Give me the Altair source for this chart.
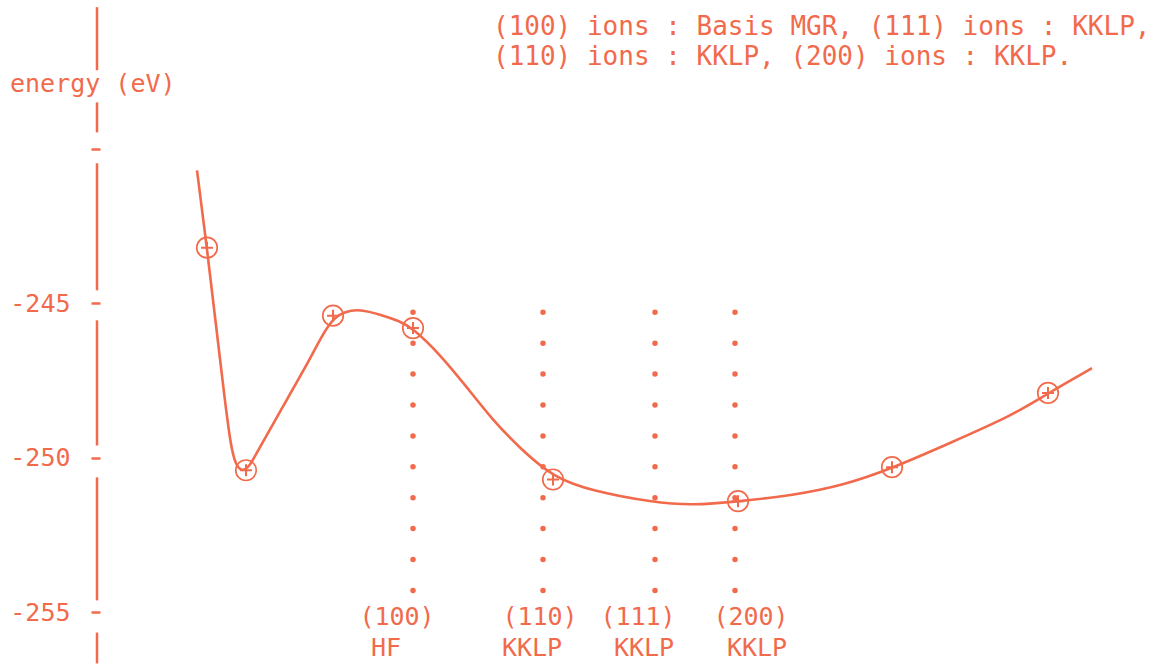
import altair as alt
import pandas as pd

INK = "#f26a4c"
FONT = "DejaVu Sans Mono"

# Smooth energy curve (separation in arbitrary units, energy in eV)
curve_x = [10.0, 11.0, 11.9, 12.7, 13.4, 13.9, 14.5, 15.2, 16.1, 18.3, 20.8, 22.5,
           23.6, 24.8, 26.3, 28.3, 30.3, 31.6, 34.3, 37.0, 39.6, 42.3, 45.6, 49.6,
           55.6, 59.6, 64.1, 69.6, 74.6, 79.5, 85.0, 91.6, 95.1, 99.5]
curve_e = [-240.70, -243.22, -245.71, -247.91, -249.69, -250.24, -250.44, -250.31,
           -249.76, -248.50, -247.10, -246.04, -245.49, -245.26, -245.19, -245.36,
           -245.58, -245.81, -246.65, -247.72, -248.79, -249.69, -250.63, -251.08,
           -251.44, -251.54, -251.41, -251.21, -250.89, -250.34, -249.56, -248.62,
           -247.91, -247.10]

# Computed points
point_x = [11.0, 14.9, 23.6, 31.6, 45.6, 64.1, 79.5, 95.1]
point_e = [-243.2, -250.4, -245.4, -245.8, -250.7, -251.4, -250.3, -247.9]

# Reference configurations marked by dotted verticals
ref_x = [31.6, 44.6, 55.8, 63.8]
ref_top = -245.29
ref_bottom = -254.4

# Labels under the verticals
label_top_x = [30.0, 44.3, 54.1, 65.4]
label_top = ["(100)", "(110)", "(111)", "(200)"]
label_bot_x = [28.9, 43.5, 54.7, 66.0]
label_bot = ["HF", "KKLP", "KKLP", "KKLP"]

note_lines = ["(100) ions : Basis MGR, (111) ions : KKLP,",
              "(110) ions : KKLP, (200) ions : KKLP."]

y_ticks = [-255, -250, -245, -240]
# Energy axis drawn as broken segments around the tick dashes
axis_seg_top = [-235.42, -238.50, -240.47, -245.55, -250.63, -255.65]
axis_seg_bot = [-237.46, -239.47, -244.58, -249.60, -254.61, -256.65]

x_scale = alt.Scale(domain=[0, 100], nice=False, zero=False)
y_scale = alt.Scale(domain=[-256.7, -235.35], nice=False, zero=False)

y_axis = alt.Axis(
    title=None,
    values=y_ticks,
    grid=False,
    domain=False,
    ticks=True,
    tickSize=9,
    tickWidth=2.5,
    tickColor=INK,
    offset=-3,
    labelPadding=21,
    labelFont=FONT,
    labelFontSize=25,
    labelColor=INK,
    labelExpr="datum.value == -240 ? '' : toString(datum.value)",
)

curve_df = pd.DataFrame({"x": curve_x, "e": curve_e})
pts_df = pd.DataFrame({"x": point_x, "e": point_e})
ref_df = pd.DataFrame({"x": ref_x, "top": [ref_top] * 4, "bot": [ref_bottom] * 4})
lab1_df = pd.DataFrame({"x": label_top_x, "t": label_top})
lab2_df = pd.DataFrame({"x": label_bot_x, "t": label_bot})
seg_df = pd.DataFrame({"a": axis_seg_top, "b": axis_seg_bot})

X = alt.X("x:Q", scale=x_scale, axis=None)


def Y(field):
    return alt.Y(field, type="quantitative", scale=y_scale, axis=y_axis)


axis_line = alt.Chart(seg_df).mark_rule(color=INK, strokeWidth=2.5).encode(
    x=alt.value(0), y=Y("a"), y2="b"
)

refs = alt.Chart(ref_df).mark_rule(
    color=INK, strokeWidth=5.5, strokeDash=[0, 30.9], strokeCap="round"
).encode(x=X, y=Y("top"), y2="bot")

curve = alt.Chart(curve_df).mark_line(
    color=INK, strokeWidth=2.6, interpolate="basis"
).encode(x=X, y=Y("e"))

circles = alt.Chart(pts_df).mark_point(
    shape="circle", size=420, filled=False, color=INK, strokeWidth=1.7, opacity=1
).encode(x=X, y=Y("e"))

plus = alt.Chart(pts_df).mark_point(
    shape="M-1,0L1,0M0,-1L0,1", size=144, filled=False, color=INK, strokeWidth=2, opacity=1
).encode(x=X, y=Y("e"))

lab1 = alt.Chart(lab1_df).mark_text(
    font=FONT, fontSize=25, color=INK, align="center", baseline="alphabetic"
).encode(x=X, y=alt.value(620), text="t:N")

lab2 = alt.Chart(lab2_df).mark_text(
    font=FONT, fontSize=25, color=INK, align="center", baseline="alphabetic"
).encode(x=X, y=alt.value(651), text="t:N")

ylabel = alt.Chart(pd.DataFrame({"t": ["energy (eV)"]})).mark_text(
    font=FONT, fontSize=25, color=INK, align="left", baseline="alphabetic"
).encode(x=alt.value(-87), y=alt.value(87), text="t:N")

note = alt.Chart(pd.DataFrame({"t": [note_lines]})).mark_text(
    font=FONT, fontSize=26, color=INK, align="left", baseline="alphabetic", lineHeight=30
).encode(x=alt.value(396), y=alt.value(30), text="t")

chart = alt.layer(
    axis_line, refs, curve, circles, plus, lab1, lab2, ylabel, note
).properties(
    width=1000,
    height=660,
    autosize="none",
    padding={"left": 97, "top": 5, "right": 68, "bottom": 4},
    background="white",
).configure_view(stroke=None)

chart.save("out.html", embed_options={"renderer": "svg", "actions": False})
